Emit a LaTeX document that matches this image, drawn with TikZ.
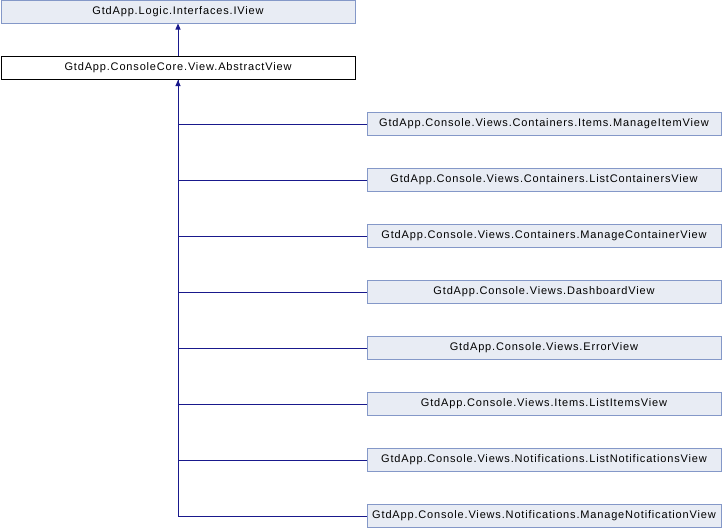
\documentclass[tikz,border=0pt]{standalone}
\usepackage{fontspec}
\setmainfont{Liberation Sans}[LetterSpace=7.6]
\usetikzlibrary{arrows.meta}
\definecolor{edgeblue}{RGB}{25,25,140}
\definecolor{boxfill}{RGB}{232,236,244}
\definecolor{boxline}{RGB}{132,152,200}
\tikzset{
  cls/.style={draw=boxline, fill=boxfill, line width=1pt, minimum width=354pt, minimum height=23pt, inner sep=0pt, font=\fontsize{11}{13}\selectfont, anchor=center},
  cur/.style={cls, draw=black, fill=white},
  inh/.style={draw=edgeblue, line width=1pt},
  inharrow/.style={inh, -{Triangle[width=5pt,length=6pt]}}
}
\begin{document}
\begin{tikzpicture}[x=1pt,y=-1pt]
\useasboundingbox (0,0) rectangle (722,528);
\node[cls] (iview) at (178,11.5) {GtdApp.Logic.Interfaces.IView};
\node[cur] (abs) at (178,68) {GtdApp.ConsoleCore.View.AbstractView};
\draw[inharrow] (abs.north) -- (iview.south);
\foreach \n/\t [count=\i from 0] in {c1/GtdApp.Console.Views.Containers.Items.ManageItemView,
  c2/GtdApp.Console.Views.Containers.ListContainersView,
  c3/GtdApp.Console.Views.Containers.ManageContainerView,
  c4/GtdApp.Console.Views.DashboardView,
  c5/GtdApp.Console.Views.ErrorView,
  c6/GtdApp.Console.Views.Items.ListItemsView,
  c7/GtdApp.Console.Views.Notifications.ListNotificationsView,
  c8/GtdApp.Console.Views.Notifications.ManageNotificationView}{
  \node[cls] (\n) at (544,124+56*\i) {\t};
}
\coordinate (bend) at (178,516);
\draw[inh] (bend) -- (abs.south);
\draw[inharrow] (178,90) -- (abs.south);
\foreach \n in {c1,c2,c3,c4,c5,c6,c7,c8}{
  \draw[inh] (\n.west) -- (\n.west -| abs.south);
}
\end{tikzpicture}
\end{document}
